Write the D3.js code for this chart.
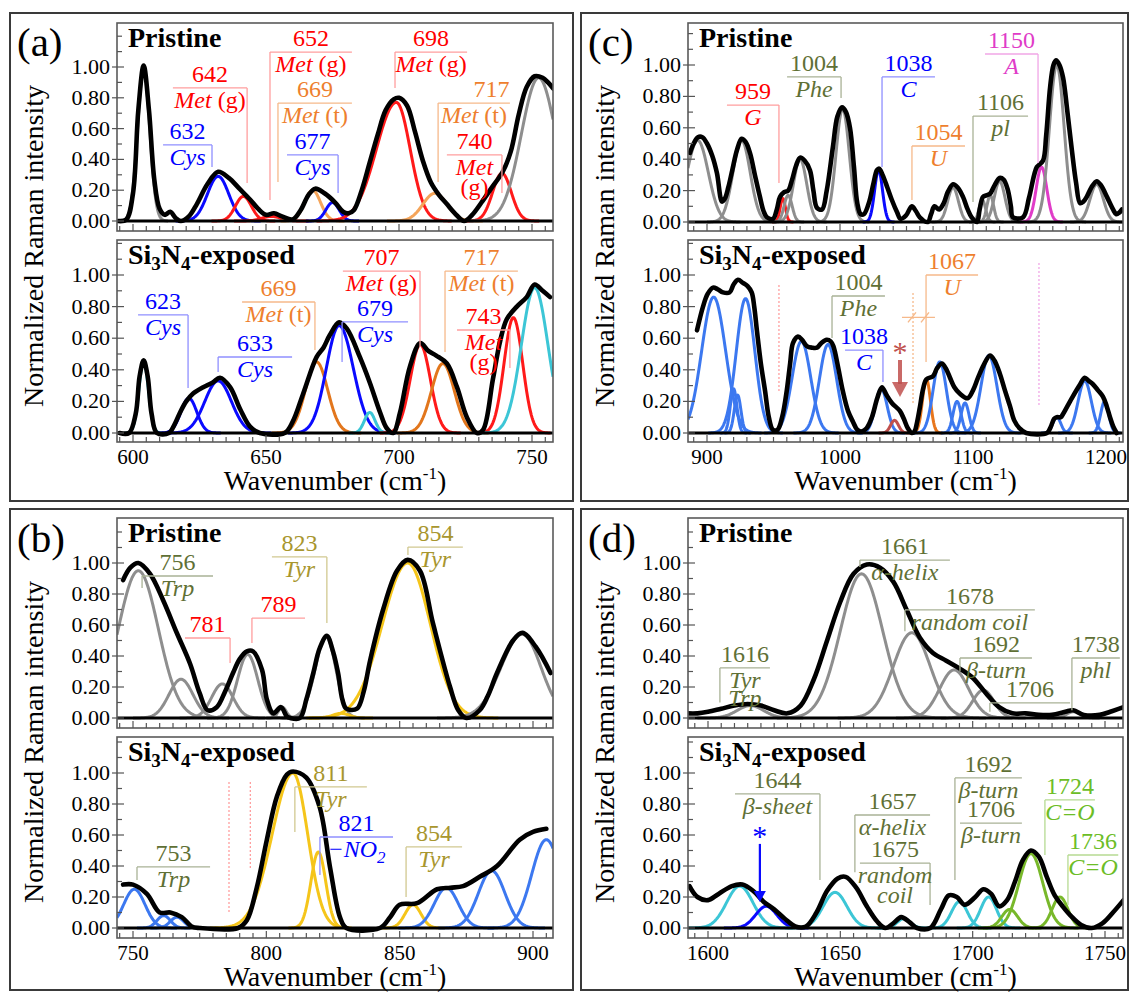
<!DOCTYPE html>
<html>
<head>
<meta charset="utf-8">
<title>Raman band fits</title>
<script src="https://cdn.jsdelivr.net/npm/d3@7/dist/d3.min.js"></script>
<style>
  body { margin: 0; background: #fff; }
  svg { display: block; }
</style>
</head>
<body>
<svg id="chart" width="1132" height="992" font-family="'Liberation Serif', 'Times New Roman', Tinos, 'DejaVu Serif', 'Noto Serif', serif"></svg>
<script>
// ---------- data: [wavenumber cm-1, normalized intensity] ----------
// band lists: [category, centre, height, sigma (left), sigma right if skewed]

// (a) 600-750
const aPristineCurve = [[594.5,0],[597.5,0.01],[600,0.18],[602,0.72],[604,1.01],[606,0.72],[608,0.27],[610,0.08],[612,0.04],[614,0.06],[616,0.02],[618,0.0],[621,0.03],[624,0.11],[628,0.24],[632,0.32],[636,0.28],[640,0.21],[644,0.14],[647,0.08],[650,0.04],[653,0.05],[656,0.03],[660,0.01],[663,0.07],[666,0.17],[668.5,0.21],[672,0.18],[676,0.12],[679,0.06],[681,0.05],[683,0.07],[686,0.2],[689,0.38],[692,0.56],[695,0.72],[698,0.79],[700,0.8],[703,0.75],[706,0.58],[709,0.39],[712,0.25],[715,0.17],[718,0.11],[721,0.05],[724.5,0.0],[727.5,0.04],[731,0.12],[735,0.22],[739,0.32],[742,0.45],[745,0.69],[748,0.87],[751,0.94],[754,0.93],[756,0.9],[758,0.86]];
const aPristineBands = [['gray',604,0.98,2.3],['cys',632,0.29,4],['metg',641.5,0.16,3],['metg',652,0.03,3.5],['mett',667.5,0.2,3],['cys',675,0.12,2.5],['metg',699,0.77,7.5,5.2],['mett',713.5,0.18,4.5],['metg',738.7,0.31,3.5],['gray',752.5,0.93,6.5]];
const aPristineNotes = [
  {num:'642', name:['Met (g)'], cat:'metg', x0:615.0, x1:642.9, y:0.864, stem:'r', to:0.247},
  {num:'632', name:['Cys'], cat:'cys', x0:611.3, x1:629.7, y:0.494, stem:'r', to:0.351},
  {num:'652', name:['Met (g)'], cat:'metg', x0:651.5, x1:682.3, y:1.097, stem:'l', to:0.136},
  {num:'669', name:['Met (t)'], cat:'mett', x0:654.5, x1:682.3, y:0.766, stem:'l', to:0.253},
  {num:'677', name:['Cys'], cat:'cys', x0:657.9, x1:677.1, y:0.429, stem:'r', to:0.182},
  {num:'698', name:['Met (g)'], cat:'metg', x0:698.5, x1:725.6, y:1.097, stem:'l', to:0.864},
  {num:'717', name:['Met (t)'], cat:'mett', x0:714.7, x1:741.7, y:0.766, stem:'l', to:0.253, nx:734.8},
  {num:'740', name:['Met','(g)'], cat:'metg', x0:718.0, x1:738.7, y:0.429, stem:'r', to:0.182}
];
const aExposedCurve = [[595,0],[598.5,0],[601,0.12],[602.5,0.36],[604,0.46],[605.5,0.36],[607,0.12],[609,0],[613.5,0],[615.5,0.05],[617.7,0.13],[620,0.2],[622.6,0.25],[626.4,0.29],[630,0.32],[632.7,0.35],[636.5,0.29],[640.3,0.15],[644,0.04],[647.7,0],[657,0],[660,0.07],[664,0.25],[669,0.48],[671.6,0.54],[674,0.62],[677.5,0.7],[680.4,0.66],[685.3,0.48],[689,0.32],[692.9,0.13],[695.4,0.03],[697.8,0],[700.4,0.13],[704.1,0.42],[708,0.57],[711,0.52],[714,0.49],[718,0.44],[721.8,0.29],[725.5,0.1],[729.3,0],[731.6,0.02],[735.3,0.34],[738,0.58],[740.5,0.72],[744.3,0.8],[748,0.86],[751,0.94],[754,0.9],[756.8,0.86]];
const aExposedBands = [['cyan',604,0.45,1.8],['cys',621,0.22,3],['cys',632,0.33,5],['mett2',669,0.45,4.2],['cys',677.5,0.68,4.8,5.3],['cyan',689,0.13,2],['metg',708,0.56,3.8],['mett2',716.5,0.44,4.3],['metg',743,0.73,3.5],['cyan',751,0.92,5]];
const aExposedNotes = [
  {num:'623', name:['Cys'], cat:'cys', x0:601.9, x1:620.7, y:0.747, stem:'r', to:0.285},
  {num:'633', name:['Cys'], cat:'cys', x0:632.0, x1:659.8, y:0.481, stem:'l', to:0.386},
  {num:'669', name:['Met (t)'], cat:'mett', x0:641.0, x1:668.4, y:0.829, stem:'r', to:0.525},
  {num:'679', name:['Cys'], cat:'cys', x0:678.6, x1:703.4, y:0.703, stem:'l', to:0.449},
  {num:'707', name:['Met (g)'], cat:'metg', x0:678.9, x1:707.9, y:1.025, stem:'r', to:0.544},
  {num:'717', name:['Met (t)'], cat:'mett', x0:717.3, x1:744.7, y:1.025, stem:'l', to:0.513},
  {num:'743', name:['Met','(g)'], cat:'metg', x0:721.8, x1:741.7, y:0.652, stem:'r', to:0.411}
];

// (b) 750-900
const bPristineCurve = [[746.3,0.89],[749,0.97],[752,1.0],[756.4,0.93],[761.3,0.76],[766.4,0.55],[771.4,0.35],[775,0.16],[778,0.05],[781.4,0.07],[784.5,0.17],[787.5,0.29],[790,0.38],[792.7,0.43],[795,0.43],[798.4,0.31],[800.2,0.12],[802.6,0.03],[805.5,0.07],[807.7,0.01],[809,0],[812.6,0],[815,0.12],[817.6,0.29],[820,0.45],[822.7,0.53],[825,0.43],[826.9,0.29],[828.5,0.12],[830,0.06],[834,0.06],[836.5,0.17],[838.9,0.37],[843.8,0.7],[849,0.95],[853,1.02],[857.6,0.95],[862.5,0.61],[868.9,0.2],[872,0.05],[875,0],[880,0.05],[883,0.14],[886.5,0.29],[892.5,0.5],[896,0.55],[901,0.46],[906.6,0.29]];
const bPristineBands = [['gray',752,0.95,7.5],['gray',768,0.25,4.5],['gray',783.5,0.22,4],['gray',793,0.41,3.8],['gray',806,0.07,1.5],['gray',822.5,0.52,4.2,3.6],['tyr',828,0.03,3],['tyr',853,1.0,9.5,8.5],['gray',896,0.54,8,7]];
const bPristineNotes = [
  {num:'756', name:['Trp'], cat:'trp', x0:753.4, x1:780.0, y:0.916, stem:'l', to:0.839},
  {num:'781', name:[], cat:'red', x0:769.5, x1:786.4, y:0.516, stem:'r', to:0.355},
  {num:'789', name:[], cat:'red', x0:794.6, x1:814.5, y:0.645, stem:'l', to:0.484},
  {num:'823', name:['Tyr'], cat:'tyr', x0:802.1, x1:822.7, y:1.039, stem:'r', to:0.613},
  {num:'854', name:['Tyr'], cat:'tyr', x0:853.1, x1:873.7, y:1.103, stem:'l', to:1.052}
];
const bExposedCurve = [[746.3,0.28],[750,0.28],[755.2,0.22],[760,0.1],[764,0.1],[768.3,0.07],[772,0.01],[775,0],[789.4,0],[792.7,0.05],[796.4,0.26],[800.2,0.57],[804,0.85],[807.7,0.99],[810,1.01],[815,0.97],[820,0.78],[823.9,0.39],[827.6,0.07],[830,0],[842.6,0],[846.4,0.07],[850,0.15],[856.5,0.16],[864,0.25],[869,0.26],[873.8,0.27],[880,0.33],[886.5,0.4],[895,0.57],[900,0.62],[905,0.64]];
const bExposedBands = [['blue',750.5,0.25,4],['blue',761.5,0.08,2.5],['blue',766.5,0.07,2.5],['tyr',810,1.0,7.8,5.5],['tyr',819.5,0.49,2.8],['tyr',855,0.15,3],['blue',867.5,0.26,4.5],['blue',884.5,0.37,5],['blue',905,0.57,5.5]];
const bExposedNotes = [
  {num:'753', name:['Trp'], cat:'trp', x0:751.5, x1:778.9, y:0.394, stem:'l', to:0.310},
  {num:'811', name:['Tyr'], cat:'tyr', x0:810.7, x1:837.7, y:0.910, stem:'l', to:0.619},
  {num:'821', name:['\u2212NO_2'], cat:'cys', x0:820.1, x1:847.5, y:0.587, stem:'l', to:0.342},
  {num:'854', name:['Tyr'], cat:'tyr', x0:852.4, x1:873.4, y:0.523, stem:'l', to:0.2}
];
const bExposedGuides = [{cat:'red', x:786, y0:0.942, y1:0.097}, {cat:'red', x:794, y0:0.942, y1:0.387}];

// (c) 900-1200
const cPristineCurve = [[887.2,0.44],[890,0.5],[893.2,0.54],[896.5,0.54],[900,0.5],[904,0.42],[907.5,0.31],[911.3,0.13],[913.5,0.15],[916,0.22],[919,0.33],[922.6,0.46],[926,0.53],[929,0.51],[932.3,0.44],[936,0.3],[939.8,0.16],[942.5,0.07],[945,0.03],[949.6,0.02],[952.5,0.08],[954.9,0.16],[958,0.19],[961,0.2],[964,0.27],[967,0.36],[970,0.41],[973.5,0.39],[977.4,0.33],[980,0.2],[982.7,0.09],[986.5,0.08],[990,0.2],[994.7,0.48],[998,0.67],[1001.5,0.73],[1004.5,0.7],[1007.5,0.6],[1010.5,0.35],[1013,0.12],[1015.5,0.05],[1018,0.05],[1022,0.13],[1025,0.24],[1027.8,0.33],[1029.5,0.34],[1032,0.3],[1035.6,0.22],[1039,0.14],[1043,0.06],[1045.5,0.02],[1049.5,0.04],[1054,0.1],[1057,0.07],[1060,0.03],[1066,0.0],[1068.5,0.05],[1071,0.1],[1074.5,0.08],[1078,0.12],[1081,0.19],[1085,0.24],[1088.5,0.22],[1092.5,0.16],[1096,0.08],[1099,0.03],[1103,0.0],[1105,0.08],[1107.5,0.16],[1110,0.17],[1112.8,0.18],[1116,0.23],[1120,0.28],[1123,0.27],[1126,0.21],[1128.5,0.1],[1130,0.03],[1137.6,0.03],[1142,0.15],[1146,0.3],[1148,0.35],[1152.6,0.39],[1155,0.55],[1158,0.86],[1160.5,1.0],[1162.4,1.03],[1165,1.0],[1167.7,0.92],[1171,0.7],[1174.3,0.46],[1177.5,0.25],[1180.5,0.12],[1183,0.13],[1185.5,0.16],[1189,0.22],[1193,0.26],[1196.5,0.23],[1200.7,0.16],[1205.3,0.08],[1207.7,0.05],[1210,0.06],[1212,0.08]];
const cPristineBands = [['gray',893,0.52,8],['gray',926,0.52,6.5],['red',957,0.15,2],['gray',961,0.17,3],['gray',970,0.4,5],['gray',1002,0.72,5],['cys',1029,0.33,3],['gray',1085,0.22,4],['gray',1107,0.14,2.5],['gray',1113,0.17,2.5],['gray',1120,0.26,4],['mag',1151.5,0.35,4],['gray',1163,1.0,5.5],['gray',1193,0.24,5]];
const cPristineNotes = [
  {num:'959', name:['G'], cat:'red', x0:915.0, x1:954.1, y:0.745, stem:'r', to:0.248},
  {num:'1004', name:['Phe'], cat:'trp', x0:960.2, x1:1000.8, y:0.924, stem:'r', to:0.790},
  {num:'1038', name:['C'], cat:'cys', x0:1031.6, x1:1071.4, y:0.924, stem:'l', to:0.350},
  {num:'1054', name:['U'], cat:'u', x0:1054.1, x1:1094.0, y:0.484, stem:'l', to:0.140},
  {num:'1106', name:['pl'], cat:'trp', x0:1100.0, x1:1141.4, y:0.675, stem:'l', to:0.127},
  {num:'1150', name:['A'], cat:'mag', x0:1109.0, x1:1148.9, y:1.070, stem:'r', to:0.376}
];
const cExposedCurve = [[892.5,0.65],[897,0.8],[900.5,0.88],[904.5,0.92],[908,0.91],[912,0.89],[917,0.89],[920,0.94],[923.3,0.97],[927,0.95],[930.5,0.93],[933.6,0.89],[935.5,0.8],[937.5,0.65],[940.5,0.44],[943.6,0.27],[946.5,0.1],[949.6,0.02],[953,0.02],[956.5,0.1],[960,0.27],[962.5,0.44],[964.7,0.57],[968.4,0.61],[971.5,0.59],[975,0.55],[979,0.54],[982.7,0.54],[986,0.57],[990,0.59],[993,0.58],[995,0.55],[998.5,0.42],[1002,0.27],[1006,0.14],[1009.8,0.07],[1013,0.02],[1016,0.01],[1020,0.03],[1024,0.1],[1028,0.22],[1031.5,0.29],[1035,0.24],[1039,0.19],[1045,0.14],[1048,0.09],[1051,0.03],[1054,0.0],[1056,0.01],[1058,0.07],[1060,0.16],[1062.5,0.28],[1065,0.34],[1070,0.36],[1073,0.41],[1076.6,0.44],[1079.5,0.41],[1082.7,0.35],[1086,0.29],[1090,0.25],[1096,0.22],[1100,0.27],[1103.8,0.35],[1108,0.43],[1112.8,0.49],[1116,0.46],[1120,0.38],[1124,0.27],[1127.8,0.17],[1131,0.08],[1135,0.03],[1140,0.0],[1155.6,0.0],[1158.5,0.04],[1161,0.09],[1163,0.1],[1166,0.1],[1167.7,0.12],[1171,0.17],[1175,0.23],[1180,0.3],[1184,0.35],[1187,0.33],[1190,0.31],[1194,0.27],[1197.7,0.23],[1200.5,0.17],[1203,0.1],[1205.5,0.04],[1208,0.0]];
const cExposedBands = [['blue',905,0.86,9],['blue',920,0.28,2.5],['blue',923,0.24,2.5],['blue',929,0.85,7],['blue',971,0.58,7],['blue',991,0.56,6.5],['blue',1031,0.28,4.5],['star',1041,0.08,3],['u',1065,0.34,3],['blue',1075,0.45,5],['blue',1088,0.2,3],['blue',1094,0.19,3],['blue',1112,0.49,6],['blue',1163,0.1,3],['blue',1184,0.33,5],['blue',1199,0.2,3]];
const cExposedNotes = [
  {num:'1004', name:['Phe'], cat:'trp', x0:994.0, x1:1033.8, y:0.867, stem:'l', to:0.601},
  {num:'1038', name:['C'], cat:'cys', x0:1003.8, x1:1032.3, y:0.525, stem:'r', to:0.323},
  {num:'1067', name:['U'], cat:'u', x0:1064.7, x1:1103.8, y:1.0, stem:'l', to:0.449}
];
const cExposedGuides = [{cat:'red', x:954.1, y0:0.937, y1:0.259}, {cat:'mag', x:1149.6, y0:1.076, y1:0.165}, {cat:'u', x:1054.9, y0:0.886, y1:0.19}];
const cExposedBreaks = [{cat:'u', x0:1046.6, x1:1071.4, y:0.732, cuts:[1054.1, 1063.9]}];
const cExposedStars = [{cat:'star', x:1045.1, y:0.538, to:0.228, heavy:true}];

// (d) 1600-1750
const dPristineCurve = [[1592,0.03],[1596,0.03],[1600,0.04],[1605,0.06],[1610,0.08],[1615,0.09],[1620,0.08],[1625,0.05],[1630,0.03],[1635,0.08],[1640,0.25],[1645,0.5],[1650,0.75],[1655,0.93],[1660,0.99],[1665,0.97],[1670,0.88],[1675,0.7],[1680,0.52],[1685,0.42],[1690,0.37],[1695,0.32],[1700,0.26],[1705,0.16],[1710,0.07],[1715,0.03],[1720,0.03],[1725,0.02],[1730,0.02],[1735,0.04],[1738,0.05],[1742,0.02],[1748,0.02],[1752,0.04],[1757,0.07]];
const dPristineBands = [['gray',1616,0.08,5],['gray',1658,0.93,8],['gray',1677,0.55,7],['gray',1693,0.31,5.5],['gray',1704,0.18,4],['gray',1738,0.04,2.5]];
const dPristineNotes = [
  {num:'1616', name:['Tyr','Trp'], cat:'trp', x0:1604.5, x1:1623.4, y:0.323, stem:'l', to:0.1, gap:18},
  {num:'1661', name:['\u03b1-helix'], cat:'trp', x0:1657.4, x1:1691.4, y:1.019, stem:'l', to:0.975},
  {num:'1678', name:['random coil'], cat:'trp', x0:1674.4, x1:1723.5, y:0.697, stem:'l', to:0.56},
  {num:'1692', name:['\u03b2-turn'], cat:'trp', x0:1695.2, x1:1722.4, y:0.387, stem:'l', to:0.3},
  {num:'1706', name:[], cat:'trp', x0:1706.5, x1:1736.8, y:0.097, stem:'l', to:0.04},
  {num:'1738', name:['phl'], cat:'trp', x0:1737.5, x1:1755.6, y:0.387, stem:'l', to:0.05}
];
const dExposedCurve = [[1593,0.27],[1596,0.2],[1600,0.18],[1604,0.22],[1609,0.27],[1613,0.28],[1617,0.24],[1621,0.17],[1625,0.12],[1629,0.06],[1633,0.01],[1637,0.01],[1641,0.1],[1645,0.24],[1649,0.32],[1652,0.33],[1656,0.26],[1660,0.14],[1664,0.04],[1667,0.0],[1670,0.03],[1673,0.07],[1676,0.04],[1679,0.0],[1684,0.0],[1688,0.12],[1691,0.21],[1694,0.2],[1697,0.15],[1701,0.2],[1704,0.25],[1707,0.22],[1710,0.14],[1713,0.18],[1716,0.3],[1719,0.44],[1722,0.5],[1725,0.46],[1728,0.33],[1731,0.21],[1734,0.14],[1737,0.08],[1741,0.02],[1745,0.0],[1749,0.03],[1753,0.1],[1757,0.18]];
const dExposedBands = [['cyan',1612,0.27,5],['cys',1622,0.14,4],['cyan',1648,0.23,4.5],['cyan',1674,0.06,2.5],['cyan',1695,0.17,3],['cyan',1706,0.2,3],['green',1714,0.12,3],['green',1722,0.48,4.5],['green',1733,0.2,3]];
const dExposedNotes = [
  {num:'1644', name:['\u03b2-sheet'], cat:'trp', x0:1610.2, x1:1642.3, y:0.865, stem:'r', to:0.31},
  {num:'1657', name:['\u03b1-helix'], cat:'trp', x0:1655.5, x1:1683.9, y:0.729, stem:'l', to:0.36},
  {num:'1675', name:['random','coil'], cat:'trp', x0:1657.4, x1:1683.9, y:0.419, stem:'r', to:0.148},
  {num:'1692', name:['\u03b2-turn'], cat:'trp', x0:1693.3, x1:1718.6, y:0.968, stem:'l', to:0.31},
  {num:'1706', name:['\u03b2-turn'], cat:'trp', x0:1695.2, x1:1718.6, y:0.677},
  {num:'1724', name:['C=O'], cat:'green', x0:1727.3, x1:1746.2, y:0.826, stem:'l', to:0.471},
  {num:'1736', name:['C=O'], cat:'green', x0:1736, x1:1755, y:0.471, stem:'l', to:0.148}
];
const dExposedStars = [{cat:'cys', x:1619.6, y:0.62, to:0.168}];

// ---------- styles ----------
const CatStyle = {
  gray:  { line: '#8e8e8e' },
  metg:  { line: '#ff1a1a', text: '#ff0000', rule: '#ff9e9e' },
  mett:  { line: '#f5a55a', text: '#ee7f2e', rule: '#f6b98a' },
  mett2: { line: '#e2761c', text: '#ee7f2e', rule: '#f6b98a' },
  cys:   { line: '#0a0aff', text: '#0000ff', rule: '#8f8fff' },
  cyan:  { line: '#3cc6d6' },
  blue:  { line: '#3c78f0' },
  trp:   { text: '#5f7035', rule: '#a9b296' },
  tyr:   { line: '#f5c51a', text: '#a8962e', rule: '#d1c890' },
  red:   { line: '#ff1a1a', text: '#ff0000', rule: '#ff9e9e' },
  u:     { line: '#e8761c', text: '#ee7f2e', rule: '#f6b98a' },
  mag:   { line: '#e03cc8', text: '#e03cc8', rule: '#f0a6e6' },
  star:  { line: '#c0504d', text: '#c0504d' },
  green: { line: '#78b82a', text: '#6cbd26', rule: '#b6da92' }
};

class RamanPanel {
  constructor(opt){
    this.owner = opt.owner;
    this.id = opt.id;
    this.tag = opt.tag;
    this.box = opt.box;
    this.left = opt.left;
    this.right = opt.right;
    this.x = d3.scaleLinear().domain(opt.xDomain).range(opt.xRange);
    this.minorStep = opt.minorStep;
    this.majorStep = opt.majorStep;
    this.yLabelMid = opt.yLabelMid;
    this.subs = opt.subs;
  }

  draw(){
    let g = this.owner.append('g');
    let b = this.box;
    g.append('rect')
      .attr('x', b[0]).attr('y', b[1])
      .attr('width', b[2]-b[0]).attr('height', b[3]-b[1])
      .attr('fill', 'none').attr('stroke', '#3a3a3a').attr('stroke-width', 2);

    g.append('text')
      .attr('x', b[0]+7).attr('y', b[1]+43)
      .attr('font-size', 41)
      .text(this.tag);

    this.subs.forEach((s, i) => this.drawSub(g, s, i));

    g.append('text')
      .attr('transform', `translate(${b[0]+33},${this.yLabelMid}) rotate(-90)`)
      .attr('text-anchor', 'middle')
      .attr('font-size', 28)
      .text('Normalized Raman intensity');

    let last = this.subs[this.subs.length-1];
    let xl = g.append('text')
      .attr('x', (this.left+this.right)/2).attr('y', last.frame[1]+48)
      .attr('text-anchor', 'middle')
      .attr('font-size', 28);
    xl.append('tspan').text('Wavenumber (cm');
    xl.append('tspan').attr('dy', -11).attr('font-size', 17).text('-1');
    xl.append('tspan').attr('dy', 11).text(')');
  }

  drawSub(g, s, idx){
    let x = this.x;
    let y = d3.scaleLinear().domain([0, 1]).range([s.zeroY, s.oneY]);
    let top = s.frame[0], bottom = s.frame[1];
    let lo = x.invert(this.left), hi = x.invert(this.right);

    let clipId = this.id + '-clip' + idx;
    g.append('clipPath').attr('id', clipId)
      .append('rect')
      .attr('x', this.left).attr('y', top)
      .attr('width', this.right-this.left).attr('height', bottom-top);
    let plot = g.append('g').attr('clip-path', `url(#${clipId})`);

    let line = d3.line().x(d => x(d[0])).y(d => y(d[1]));

    // fitted component bands
    s.bands.forEach(bd => {
      let c = bd[1], h = bd[2], sl = bd[3], sr = bd[4] || bd[3];
      let a = Math.max(lo, c - 4*sl), z = Math.min(hi, c + 4*sr);
      let pts = d3.range(a, z, 0.25).concat([z]).map(v => {
        let sg = v < c ? sl : sr;
        return [v, h*Math.exp(-((v-c)*(v-c))/(2*sg*sg))];
      });
      plot.append('path')
        .attr('d', line(pts))
        .attr('fill', 'none')
        .attr('stroke', CatStyle[bd[0]].line)
        .attr('stroke-width', 3)
        .attr('stroke-linejoin', 'round');
    });

    // zero line
    plot.append('line')
      .attr('x1', this.left).attr('x2', this.right)
      .attr('y1', y(0)).attr('y2', y(0))
      .attr('stroke', '#000').attr('stroke-width', 3);

    // measured spectrum
    plot.append('path')
      .attr('d', line.curve(d3.curveCatmullRom.alpha(0.5))(s.curve))
      .attr('fill', 'none')
      .attr('stroke', '#000')
      .attr('stroke-width', 4.6)
      .attr('stroke-linejoin', 'round')
      .attr('stroke-linecap', 'round');

    // frame
    g.append('rect')
      .attr('x', this.left).attr('y', top)
      .attr('width', this.right-this.left).attr('height', bottom-top)
      .attr('fill', 'none').attr('stroke', '#5a5a5a').attr('stroke-width', 1.6);

    // x ticks
    let start = Math.ceil(lo/this.minorStep)*this.minorStep;
    d3.range(start, hi, this.minorStep).forEach(v => {
      let major = Math.abs(v/this.majorStep - Math.round(v/this.majorStep)) < 1e-6;
      g.append('line')
        .attr('x1', x(v)).attr('x2', x(v))
        .attr('y1', bottom).attr('y2', bottom - (major ? 7 : 5))
        .attr('stroke', '#555').attr('stroke-width', 1.2);
      if(major && idx === this.subs.length-1){
        g.append('text')
          .attr('x', x(v)).attr('y', bottom+22)
          .attr('text-anchor', 'middle')
          .attr('font-size', 21)
          .text(v);
      }
    });

    // y ticks
    let yTop = y.invert(top);
    d3.range(0, yTop, 0.1).forEach(v => {
      let major = Math.round(v*10) % 2 === 0 && v < 1.01;
      g.append('line')
        .attr('x1', this.left - (major ? 5 : 0)).attr('x2', this.left + (major ? 7 : 5))
        .attr('y1', y(v)).attr('y2', y(v))
        .attr('stroke', '#555').attr('stroke-width', 1.2);
      if(major){
        g.append('text')
          .attr('x', this.left-7).attr('y', y(v)+7)
          .attr('text-anchor', 'end')
          .attr('font-size', 22)
          .text(d3.format('.2f')(v));
      }
    });

    // title
    let t = g.append('text')
      .attr('x', this.left+11).attr('y', top+24)
      .attr('font-size', 28).attr('font-weight', 'bold');
    if(s.title === 'pristine'){
      t.text('Pristine');
    }else{
      t.append('tspan').text('Si');
      t.append('tspan').attr('dy', 6).attr('font-size', 19).text('3');
      t.append('tspan').attr('dy', -6).text('N');
      t.append('tspan').attr('dy', 6).attr('font-size', 19).text('4');
      t.append('tspan').attr('dy', -6).text('-exposed');
    }

    (s.guides || []).forEach(gd => {
      g.append('line')
        .attr('x1', x(gd.x)).attr('x2', x(gd.x))
        .attr('y1', y(gd.y0)).attr('y2', y(gd.y1))
        .attr('stroke', CatStyle[gd.cat].rule)
        .attr('stroke-width', 1.3)
        .attr('stroke-dasharray', '2,2');
    });

    (s.breaks || []).forEach(br => {
      let st = CatStyle[br.cat];
      g.append('line')
        .attr('x1', x(br.x0)).attr('x2', x(br.x1))
        .attr('y1', y(br.y)).attr('y2', y(br.y))
        .attr('stroke', st.rule).attr('stroke-width', 1.4);
      br.cuts.forEach(cv => {
        g.append('line')
          .attr('x1', x(cv)-4).attr('x2', x(cv)+4)
          .attr('y1', y(br.y)+5).attr('y2', y(br.y)-5)
          .attr('stroke', st.rule).attr('stroke-width', 1.4);
      });
    });

    s.notes.forEach(n => this.drawNote(g, x, y, n));
    (s.stars || []).forEach(m => this.drawStar(g, x, y, m));
  }

  drawNote(g, x, y, n){
    let st = CatStyle[n.cat];
    let x0 = x(n.x0), x1 = x(n.x1), ry = y(n.y);
    let gap = n.gap || 20;
    g.append('line')
      .attr('x1', x0).attr('x2', x1)
      .attr('y1', ry).attr('y2', ry)
      .attr('stroke', st.rule).attr('stroke-width', 1.3);
    if(n.stem){
      let sx = n.stem === 'l' ? x0 : x1;
      g.append('line')
        .attr('x1', sx).attr('x2', sx)
        .attr('y1', ry).attr('y2', y(n.to))
        .attr('stroke', st.rule).attr('stroke-width', 1.3);
    }
    let cx = (x0 + x1)/2;
    g.append('text')
      .attr('x', n.nx !== undefined ? x(n.nx) : cx).attr('y', ry-6)
      .attr('text-anchor', 'middle')
      .attr('font-size', 24)
      .attr('fill', st.text)
      .text(n.num);
    n.name.forEach((nm, i) => {
      let t = g.append('text')
        .attr('x', cx).attr('y', ry + 20 + i*gap)
        .attr('text-anchor', 'middle')
        .attr('font-size', 24)
        .attr('fill', st.text);
      // parenthesised parts upright, subscripts after '_'
      nm.split(/(\(.+?\)|_\d)/).filter(p => p.length).forEach(p => {
        if(p[0] === '_'){
          t.append('tspan').attr('dy', 6).attr('font-size', 17).attr('font-style', 'italic').text(p.slice(1));
        }else{
          t.append('tspan').attr('font-style', p[0] === '(' ? 'normal' : 'italic').text(p);
        }
      });
    });
  }

  drawStar(g, x, y, m){
    let st = CatStyle[m.cat];
    let cx = x(m.x), sy = y(m.y), ty = y(m.to);
    let head = m.heavy ? 15 : 11, hw = m.heavy ? 8 : 6;
    g.append('text')
      .attr('x', cx).attr('y', sy+14)
      .attr('text-anchor', 'middle')
      .attr('font-size', 30)
      .attr('fill', st.text || st.line)
      .text('*');
    g.append('line')
      .attr('x1', cx).attr('x2', cx)
      .attr('y1', sy+12).attr('y2', ty-head+2)
      .attr('stroke', st.line).attr('stroke-width', m.heavy ? 4 : 2.2)
      .attr('opacity', m.heavy ? 0.85 : 1);
    g.append('path')
      .attr('d', `M${cx-hw},${ty-head}L${cx+hw},${ty-head}L${cx},${ty}Z`)
      .attr('fill', st.line)
      .attr('opacity', m.heavy ? 0.85 : 1);
  }
}

let svg = d3.select('#chart');
svg.append('rect').attr('width', 1132).attr('height', 992).attr('fill', '#fff');

let topSubs = {p: {frame: [23, 231], zeroY: 221, oneY: 67}, e: {frame: [240, 442], zeroY: 433, oneY: 275}};
let botSubs = {p: {frame: [518, 728], zeroY: 718, oneY: 563}, e: {frame: [737, 938], zeroY: 928, oneY: 773}};

let panels = [
  new RamanPanel({
    owner: svg, id: 'pa', tag: '(a)', box: [10, 13, 573, 501], left: 117, right: 553,
    xDomain: [600, 750], xRange: [133, 532], minorStep: 5, majorStep: 50, yLabelMid: 246,
    subs: [
      {...topSubs.p, title: 'pristine', curve: aPristineCurve, bands: aPristineBands, notes: aPristineNotes},
      {...topSubs.e, title: 'exposed', curve: aExposedCurve, bands: aExposedBands, notes: aExposedNotes}
    ]
  }),
  new RamanPanel({
    owner: svg, id: 'pb', tag: '(b)', box: [10, 509, 573, 990], left: 117, right: 553,
    xDomain: [750, 900], xRange: [133, 533], minorStep: 5, majorStep: 50, yLabelMid: 742,
    subs: [
      {...botSubs.p, title: 'pristine', curve: bPristineCurve, bands: bPristineBands, notes: bPristineNotes},
      {...botSubs.e, title: 'exposed', curve: bExposedCurve, bands: bExposedBands, notes: bExposedNotes, guides: bExposedGuides}
    ]
  }),
  new RamanPanel({
    owner: svg, id: 'pc', tag: '(c)', box: [581, 13, 1128, 501], left: 688, right: 1123,
    xDomain: [900, 1200], xRange: [707, 1106], minorStep: 10, majorStep: 100, yLabelMid: 246,
    subs: [
      {...topSubs.p, zeroY: 222, oneY: 65, title: 'pristine', curve: cPristineCurve, bands: cPristineBands, notes: cPristineNotes},
      {...topSubs.e, title: 'exposed', curve: cExposedCurve, bands: cExposedBands, notes: cExposedNotes,
        guides: cExposedGuides, breaks: cExposedBreaks, stars: cExposedStars}
    ]
  }),
  new RamanPanel({
    owner: svg, id: 'pd', tag: '(d)', box: [581, 509, 1128, 990], left: 688, right: 1123,
    xDomain: [1600, 1750], xRange: [708, 1105], minorStep: 5, majorStep: 50, yLabelMid: 742,
    subs: [
      {...botSubs.p, title: 'pristine', curve: dPristineCurve, bands: dPristineBands, notes: dPristineNotes},
      {...botSubs.e, title: 'exposed', curve: dExposedCurve, bands: dExposedBands, notes: dExposedNotes, stars: dExposedStars}
    ]
  })
];

panels.forEach(p => p.draw());
</script>
</body>
</html>
